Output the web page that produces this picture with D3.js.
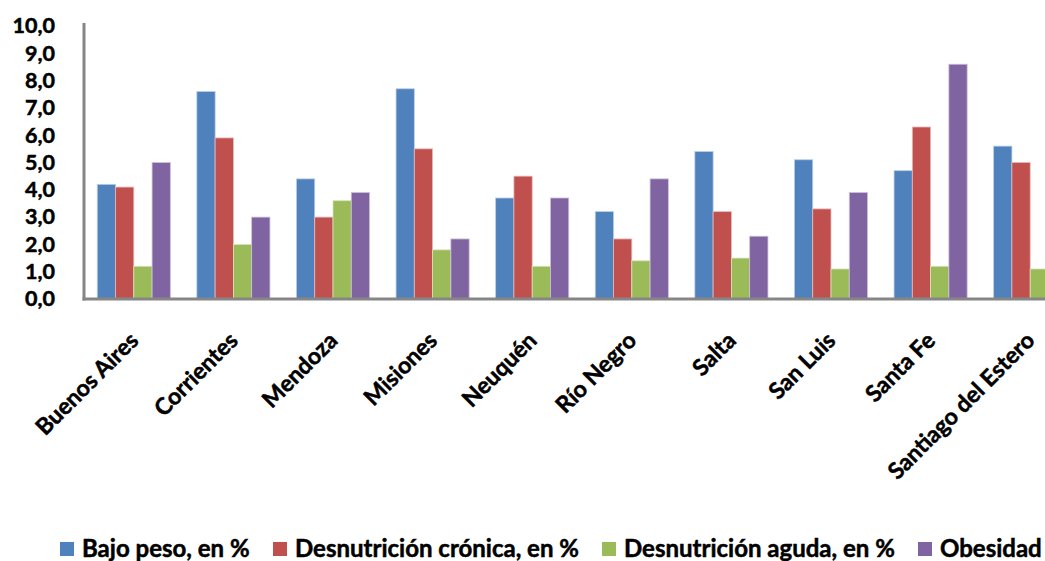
<!DOCTYPE html>
<html>
<head>
<meta charset="utf-8">
<script src="https://cdn.jsdelivr.net/npm/d3@7"></script>
<style>
  html, body { margin: 0; padding: 0; background: #fff; }
  svg { display: block; overflow: hidden; }
  text { font-family: Lato, "Open Sans", sans-serif; font-weight: bold; fill: #000; stroke: #000; stroke-width: 0.5px; }
</style>
</head>
<body>
<div id="chart"></div>
<script>
const W = 1045, H = 561;

const provincias = ["Buenos Aires", "Corrientes", "Mendoza", "Misiones", "Neuquén",
                    "Río Negro", "Salta", "San Luis", "Santa Fe", "Santiago del Estero"];
const series = ["Bajo peso, en %", "Desnutrición crónica, en %", "Desnutrición aguda, en %", "Obesidad"];
const bajoPeso      = [4.2, 7.6, 4.4, 7.7, 3.7, 3.2, 5.4, 5.1, 4.7, 5.6];
const desnCronica   = [4.1, 5.9, 3.0, 5.5, 4.5, 2.2, 3.2, 3.3, 6.3, 5.0];
const desnAguda     = [1.2, 2.0, 3.6, 1.8, 1.2, 1.4, 1.5, 1.1, 1.2, 1.1];
const obesidad      = [5.0, 3.0, 3.9, 2.2, 3.7, 4.4, 2.3, 3.9, 8.6, 3.4];
const yTicks = [0, 1, 2, 3, 4, 5, 6, 7, 8, 9, 10];

const colors = ["#4F81BD", "#C0504D", "#9BBB59", "#8064A2"];
const edges  = ["#B9CDE5", "#E6B9B8", "#D7E4BD", "#CCC1DA"];

const valores = [bajoPeso, desnCronica, desnAguda, obesidad];
const rows = provincias.map((p, i) => ({
  prov: p,
  vals: series.map((s, k) => ({ serie: s, k: k, value: valores[k][i] }))
}));

const svg = d3.select("#chart").append("svg")
  .attr("width", W).attr("height", H);

const x0 = d3.scaleBand().domain(provincias).range([84, 1080])
  .paddingInner(0.266).paddingOuter(0.133);
const x1 = d3.scaleBand().domain(series).range([0, x0.bandwidth()]);
const y = d3.scaleLinear().domain([0, 10]).range([299, 26]);

// bars
const groups = svg.append("g").selectAll("g")
  .data(rows).enter().append("g")
    .attr("transform", d => "translate(" + x0(d.prov) + ",0)");

groups.selectAll("rect")
  .data(d => d.vals).enter().append("rect")
    .attr("x", d => x1(d.serie))
    .attr("y", d => y(d.value))
    .attr("width", x1.bandwidth())
    .attr("height", d => y(0) - y(d.value))
    .attr("fill", d => colors[d.k])
    .attr("stroke", d => edges[d.k])
    .attr("stroke-width", 0.8);

// y axis
const yAxis = d3.axisLeft(y).tickValues(yTicks).tickSize(0).tickPadding(29)
  .tickFormat(d => d3.format(".1f")(d).replace(".", ","));
const gy = svg.append("g").attr("transform", "translate(84,0)").call(yAxis);
gy.select(".domain").remove();
gy.selectAll("text").attr("font-size", 21.5).attr("font-family", null).attr("fill", null);

svg.append("line").attr("x1", 84).attr("x2", 84).attr("y1", 23).attr("y2", y(0) + 1.5)
  .attr("stroke", "#868686").attr("stroke-width", 3);

// x axis
svg.append("line").attr("x1", 82.5).attr("x2", W).attr("y1", y(0)).attr("y2", y(0))
  .attr("stroke", "#868686").attr("stroke-width", 3);

svg.append("g").selectAll("text")
  .data(provincias).enter().append("text")
    .attr("transform", d => "translate(" + (x0(d) + x0.bandwidth() / 2 + 6) + ",342) rotate(-45)")
    .attr("text-anchor", "end")
    .attr("font-size", 23)
    .text(d => d);

// legend
const legX = [60, 273, 602, 918];
const leg = svg.append("g").selectAll("g")
  .data(series).enter().append("g")
    .attr("transform", (d, i) => "translate(" + legX[i] + ",542)");
leg.append("rect").attr("width", 14).attr("height", 14)
  .attr("fill", (d, i) => colors[i]);
leg.append("text").attr("x", 22).attr("y", 15).attr("font-size", 24).text(d => d);
</script>
</body>
</html>
